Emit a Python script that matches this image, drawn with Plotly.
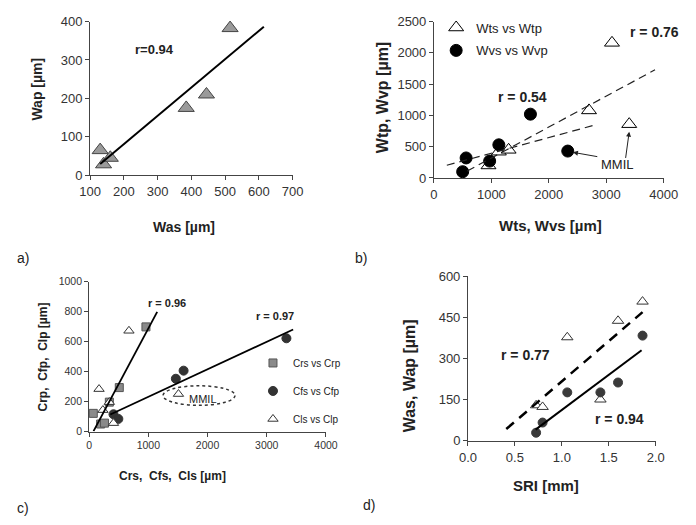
import numpy as np
import plotly.graph_objects as go

# ---------------- data ----------------
# Panel a: Was vs Wap
a_was = [130, 140, 160, 385, 445, 515]
a_wap = [65, 28, 45, 175, 210, 383]
a_fit_x = [130, 615]

# Panel b: Wts vs Wtp, Wvs vs Wvp
b_wts = [950, 1130, 1300, 2700, 3100, 3400]
b_wtp = [200, 420, 450, 1080, 2160, 860]
b_wvs = [500, 560, 970, 1130, 1680, 2330]
b_wvp = [100, 320, 270, 530, 1020, 430]
b_fit_t_x = [580, 3850]
b_fit_v_x = [224, 2786]

# Panel c: Crs vs Crp, Cfs vs Cfp, Cls vs Clp
c_crs = [71, 195, 260, 342, 510, 960]
c_crp = [121, 50, 56, 196, 293, 698]
c_cfs = [412, 494, 1465, 1596, 3332]
c_cfp = [115, 84, 352, 406, 622]
c_cls = [168, 233, 342, 412, 673, 1509]
c_clp = [283, 143, 196, 56, 672, 250]
c_fit_r_x = [75, 1150]
c_fit_f_x = [358, 3446]

# Panel d: SRI vs Was, Wap
d_sri = [0.726, 0.795, 1.058, 1.411, 1.599, 1.860]
d_was = [130, 124, 378, 151, 438, 508]
d_wap = [30, 67, 177, 177, 213, 384]
d_fit_was_x = [0.408, 1.86]
d_fit_wap_x = [0.72, 1.85]

# ---------------- helpers ----------------
W, H = 696, 525
FONT = "Arial, 'Liberation Sans', sans-serif"
TXT = "#222"


def px(x):
    return x / W


def py(y):
    return 1 - y / H


def fit(xs, ys, xr):
    k, b = np.polyfit(np.array(xs, float), np.array(ys, float), 1)
    xr = np.array(xr, float)
    return xr, k * xr + b


fig = go.Figure()

# ---- panel a ----
fig.add_trace(go.Scatter(x=a_was, y=a_wap, mode="markers", showlegend=False,
                         marker=dict(symbol="triangle-up", size=14, color="#9a9a9a",
                                     line=dict(color="#444", width=1)),
                         xaxis="x", yaxis="y", cliponaxis=False))
fx, fy = fit(a_was, a_wap, a_fit_x)
fig.add_trace(go.Scatter(x=fx, y=fy, mode="lines", showlegend=False,
                         line=dict(color="black", width=2), xaxis="x", yaxis="y"))

# ---- panel b ----
fig.add_trace(go.Scatter(x=b_wts, y=b_wtp, mode="markers", name="Wts vs Wtp",
                         legendgroup="bt", legend="legend",
                         marker=dict(symbol="triangle-up", size=13, color="white",
                                     line=dict(color="black", width=1)),
                         xaxis="x2", yaxis="y2", cliponaxis=False))
fig.add_trace(go.Scatter(x=b_wvs, y=b_wvp, mode="markers", name="Wvs vs Wvp",
                         legendgroup="bv", legend="legend",
                         marker=dict(symbol="circle", size=12, color="black",
                                     line=dict(color="black", width=1)),
                         xaxis="x2", yaxis="y2", cliponaxis=False))
fx, fy = fit(b_wts, b_wtp, b_fit_t_x)
fig.add_trace(go.Scatter(x=fx, y=fy, mode="lines", showlegend=False,
                         line=dict(color="#222", width=1.2, dash="8px,5px"),
                         xaxis="x2", yaxis="y2"))
fx, fy = fit(b_wvs, b_wvp, b_fit_v_x)
fig.add_trace(go.Scatter(x=fx, y=fy, mode="lines", showlegend=False,
                         line=dict(color="#222", width=1.2, dash="8px,5px"),
                         xaxis="x2", yaxis="y2"))

# ---- panel c ----
fig.add_trace(go.Scatter(x=c_crs, y=c_crp, mode="markers", name="Crs vs Crp",
                         legendgroup="cr", legend="legend2",
                         marker=dict(symbol="square", size=8, color="#8a8a8a",
                                     line=dict(color="#555", width=1)),
                         xaxis="x3", yaxis="y3", cliponaxis=False))
fig.add_trace(go.Scatter(x=c_cfs, y=c_cfp, mode="markers", name="Cfs vs Cfp",
                         legendgroup="cf", legend="legend2",
                         marker=dict(symbol="circle", size=9, color="#333",
                                     line=dict(color="#333", width=1)),
                         xaxis="x3", yaxis="y3", cliponaxis=False))
fig.add_trace(go.Scatter(x=c_cls, y=c_clp, mode="markers", name="Cls vs Clp",
                         legendgroup="cl", legend="legend2",
                         marker=dict(symbol="triangle-up", size=9, color="white",
                                     line=dict(color="#333", width=1)),
                         xaxis="x3", yaxis="y3", cliponaxis=False))
fx, fy = fit(c_crs, c_crp, c_fit_r_x)
fig.add_trace(go.Scatter(x=fx, y=fy, mode="lines", showlegend=False,
                         line=dict(color="black", width=1.8), xaxis="x3", yaxis="y3"))
fx, fy = fit(c_cfs, c_cfp, c_fit_f_x)
fig.add_trace(go.Scatter(x=fx, y=fy, mode="lines", showlegend=False,
                         line=dict(color="black", width=1.8), xaxis="x3", yaxis="y3"))

# ---- panel d ----
fig.add_trace(go.Scatter(x=d_sri, y=d_was, mode="markers", showlegend=False,
                         marker=dict(symbol="triangle-up", size=10, color="white",
                                     line=dict(color="#333", width=1)),
                         xaxis="x4", yaxis="y4", cliponaxis=False))
fig.add_trace(go.Scatter(x=d_sri, y=d_wap, mode="markers", showlegend=False,
                         marker=dict(symbol="circle", size=9, color="#3a3a3a",
                                     line=dict(color="#3a3a3a", width=1)),
                         xaxis="x4", yaxis="y4", cliponaxis=False))
fx, fy = fit(d_sri, d_was, d_fit_was_x)
fig.add_trace(go.Scatter(x=fx, y=fy, mode="lines", showlegend=False,
                         line=dict(color="black", width=2.5, dash="10px,7px"),
                         xaxis="x4", yaxis="y4"))
fx, fy = fit(d_sri, d_wap, d_fit_wap_x)
fig.add_trace(go.Scatter(x=fx, y=fy, mode="lines", showlegend=False,
                         line=dict(color="black", width=2), xaxis="x4", yaxis="y4"))


# ---------------- axes ----------------
def ax(domain, rng, dtick, size, anchor, fmt=None):
    d = dict(domain=domain, range=rng, dtick=dtick, tick0=rng[0], anchor=anchor,
             showline=True, linecolor="#444", linewidth=1, ticks="outside",
             ticklen=4, tickcolor="#444", showgrid=False, zeroline=False,
             tickfont=dict(family=FONT, size=size, color="#333"), fixedrange=True)
    if fmt:
        d["tickformat"] = fmt
    return d


layout = dict(
    width=W, height=H, margin=dict(l=0, r=0, t=0, b=0),
    paper_bgcolor="white", plot_bgcolor="white",
    font=dict(family=FONT, color=TXT),
    xaxis=ax([px(82), px(292)], [100, 700], 100, 13, "y"),
    yaxis=ax([py(173), py(15)], [0, 400], 100, 13, "x"),
    xaxis2=ax([px(438.7), px(677)], [0, 4000], 1000, 13, "y2"),
    yaxis2=ax([py(176), py(15)], [0, 2500], 500, 13, "x2"),
    xaxis3=ax([px(81), px(326.7)], [0, 4000], 1000, 10.5, "y3"),
    yaxis3=ax([py(437), py(282.7)], [0, 1000], 200, 10.5, "x3"),
    xaxis4=ax([px(474), px(668.7)], [0, 2], 0.5, 13, "y4", ".1f"),
    yaxis4=ax([py(446.7), py(277.3)], [0, 600], 150, 13, "x4"),
    legend=dict(x=px(441), y=py(5.7), xanchor="left", yanchor="top",
                bgcolor="rgba(0,0,0,0)", traceorder="grouped", tracegroupgap=3,
                font=dict(family=FONT, size=13, color=TXT)),
    legend2=dict(x=px(251), y=py(351.5), xanchor="left", yanchor="top",
                 bgcolor="rgba(0,0,0,0)", traceorder="grouped", tracegroupgap=9,
                 font=dict(family=FONT, size=10, color=TXT)),
)
fig.update_layout(**layout)

ann = []


def ptext(x, y, text, size, bold=False, angle=0):
    ann.append(dict(xref="paper", yref="paper", x=px(x), y=py(y), text=f"<b>{text}</b>" if bold else text,
                    showarrow=False, xanchor="center", yanchor="middle", textangle=angle,
                    font=dict(family=FONT, size=size, color=TXT)))


def dtext(xr, yr, x, y, text, size, bold=True):
    ann.append(dict(xref=xr, yref=yr, x=x, y=y, text=f"<b>{text}</b>" if bold else text,
                    showarrow=False, xanchor="center", yanchor="middle",
                    font=dict(family=FONT, size=size, color=TXT)))


# axis titles
ptext(179, 226, "Was [µm]", 14, True)
ptext(27, 85, "Wap [µm]", 14, True, -90)
ptext(559.7, 225, "Wts, Wvs [µm]", 15, True)
ptext(384.7, 93, "Wtp, Wvp [µm]", 16, True, -90)
ptext(168, 483, "Crs,  Cfs,  Cls [µm]", 12, True)
ptext(33, 360, "Crp,  Cfp,  Clp [µm]", 12, True, -90)
ptext(554.7, 493, "SRI [mm]", 15, True)
ptext(413, 380, "Was, Wap [µm]", 16, True, -90)

# panel labels
ptext(12, 258, "a)", 14)
ptext(363, 258, "b)", 14)
ptext(12, 516, "c)", 14)
ptext(371, 513, "d)", 14)

# correlation labels
dtext("x", "y", 291, 326, "r=0.94", 13)
dtext("x2", "y2", 3847, 2329, "r = 0.76", 14)
dtext("x2", "y2", 1544, 1293, "r = 0.54", 14)
dtext("x3", "y3", 1323, 860, "r = 0.96", 11)
dtext("x3", "y3", 3131, 769, "r = 0.97", 11)
dtext("x4", "y4", 0.613, 313, "r = 0.77", 14)
dtext("x4", "y4", 1.613, 80, "r = 0.94", 14)

# MMIL labels
dtext("x2", "y2", 3194, 213, "MMIL", 13, bold=False)
dtext("x3", "y3", 1921, 218, "MMIL", 11, bold=False)

# arrows in b
for (hx, hy, tx, ty) in [(2420, 410, 2870, 337), (3400, 740, 3334, 296)]:
    ann.append(dict(xref="x2", yref="y2", x=hx, y=hy, axref="x2", ayref="y2", ax=tx, ay=ty,
                    text="", showarrow=True, arrowhead=2, arrowsize=1, arrowwidth=1,
                    arrowcolor="#222"))

fig.update_layout(annotations=ann)

# dotted ellipse in c
fig.add_shape(type="circle", xref="x3", yref="y3", x0=1248, x1=2464, y0=175, y1=305,
              line=dict(color="#333", width=1.5, dash="dot"))

fig.write_html("out.html")
